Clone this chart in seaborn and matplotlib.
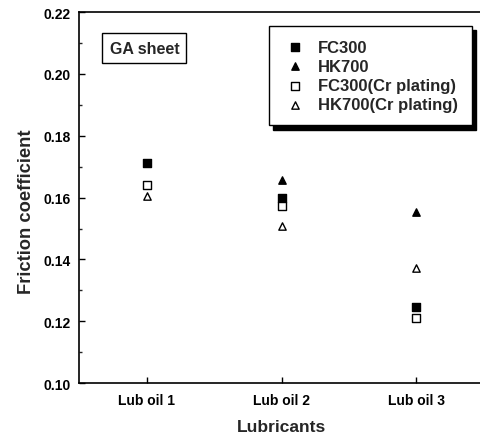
import matplotlib
matplotlib.use('Agg')
import matplotlib.pyplot as plt
import pandas as pd
import seaborn as sns
from matplotlib.ticker import MultipleLocator

sns.set_style('ticks')
plt.rcParams['font.family'] = ['Liberation Sans', 'DejaVu Sans']
plt.rcParams['font.weight'] = 'bold'

lubricants = ['Lub oil 1', 'Lub oil 2', 'Lub oil 3']
fc300 = [0.1712, 0.1598, 0.1245]
hk700 = [0.1712, 0.1658, 0.1552]
fc300_cr = [0.1641, 0.1573, 0.1210]
hk700_cr = [0.1605, 0.1508, 0.1374]

series = [
    ('FC300', fc300, 's', 'black'),
    ('HK700', hk700, '^', 'black'),
    ('FC300(Cr plating)', fc300_cr, 's', 'white'),
    ('HK700(Cr plating)', hk700_cr, '^', 'white'),
]

fig = plt.figure(figsize=(4.8, 4.39), dpi=100)
ax = fig.add_axes([0.165, 0.125, 0.843, 0.845])

for name, vals, mk, fc in series:
    df = pd.DataFrame({'Lubricants': lubricants, 'Friction coefficient': vals})
    sns.scatterplot(data=df, x='Lubricants', y='Friction coefficient', ax=ax,
                    marker=mk, s=28, facecolor=fc, edgecolor='black',
                    linewidth=1.0, label=name, zorder=3)

ax.set_xlim(-0.5, 2.5)
ax.set_ylim(0.10, 0.22)
ax.yaxis.set_major_locator(MultipleLocator(0.02))
ax.yaxis.set_minor_locator(MultipleLocator(0.01))
ax.yaxis.set_major_formatter(matplotlib.ticker.FormatStrFormatter('%.2f'))
ax.tick_params(direction='in', length=4, width=1, labelsize=10, colors='black')
ax.tick_params(axis='y', pad=6)
ax.tick_params(axis='x', pad=7)
ax.tick_params(which='minor', direction='in', length=2, width=1)
for sp in ax.spines.values():
    sp.set_linewidth(1.2)
    sp.set_color('black')

ax.set_xlabel('Lubricants', fontsize=12.5, fontweight='bold', labelpad=9)
ax.set_ylabel('Friction coefficient', fontsize=13.2, fontweight='bold')
ax.yaxis.set_label_coords(-0.110, 0.466)

leg = ax.legend(loc='upper right', bbox_to_anchor=(0.970, 0.962), borderaxespad=0,
                fontsize=12, frameon=True, fancybox=False, edgecolor='black',
                framealpha=1, shadow={'color': 'black', 'alpha': 1, 'ox': 3, 'oy': -3},
                borderpad=0.8, labelspacing=0.25, handletextpad=0.58, handlelength=1.6)
leg.get_frame().set_linewidth(1.0)

ax.text(0.075, 0.903, 'GA sheet', transform=ax.transAxes, fontsize=11.5,
        fontweight='bold', va='center', ha='left',
        bbox=dict(boxstyle='square,pad=0.45', facecolor='white', edgecolor='black', linewidth=1.0))

fig.savefig('out.png', dpi=100)
